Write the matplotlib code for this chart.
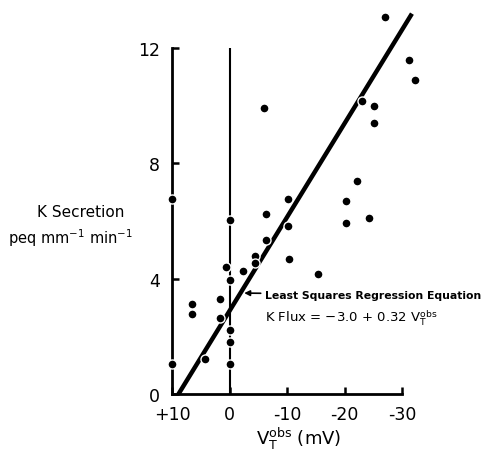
import numpy as np
import matplotlib
matplotlib.use('Agg')
from matplotlib import pyplot as plt

# transepithelial voltage (mV) and K secretion (peq mm^-1 min^-1)
v_obs = [-6.0, 10.0, 0.0, -6.3, -10.1, -10.2, -6.3, -4.3, -4.3, 0.6, -2.3,
         -10.3, -15.3, 0.0, 1.65, 6.6, 6.6, 1.65, 0.0, 0.0, 0.0, 4.4, 10.0,
         -27.0, -31.2, -32.3, -23.0, -25.1, -25.1, -22.1, -20.2, -20.3, -24.2]
k_sec = [9.93, 6.76, 6.03, 6.24, 6.78, 5.84, 5.36, 4.78, 4.55, 4.39, 4.25,
         4.67, 4.17, 3.94, 3.29, 3.11, 2.79, 2.62, 2.22, 1.81, 1.05, 1.22, 1.05,
         13.1, 11.6, 10.9, 10.17, 10.0, 9.4, 7.38, 6.69, 5.93, 6.09]

# regression line as drawn (axis runs +10 -> -30)
fit_intercept = 2.9
fit_slope = -0.325
fit_range = [9.0, -31.7]

xticks = [10, 0, -10, -20, -30]
xticklabels = ['+10', '0', '-10', '-20', '-30']
yticks = [0, 4, 8, 12]

plt.rcParams['font.family'] = 'DejaVu Sans'

fig = plt.figure(figsize=(4.87, 4.56), dpi=100)
ax = fig.add_axes([0.354, 0.134, 0.519, 0.859])

ax.set_xlim(10, -34)
ax.set_ylim(0, 13.6)

# vertical reference line at 0 mV
ax.vlines(0, 0, 12, color='black', lw=1.5, zorder=1)

x = np.array(fit_range)
ax.plot(x, fit_intercept + fit_slope * x, color='black', lw=3.2,
        solid_capstyle='butt', zorder=2)

ax.plot(v_obs, k_sec, 'o', color='black', markersize=6.5,
        markeredgecolor='white', markeredgewidth=1.0, zorder=3, clip_on=False)

for side in ['top', 'right']:
    ax.spines[side].set_visible(False)
ax.spines['left'].set_bounds(0, 12)
ax.spines['bottom'].set_bounds(10, -30)
ax.spines['left'].set_linewidth(2)
ax.spines['bottom'].set_linewidth(2)

ax.set_xticks(xticks)
ax.set_xticklabels(xticklabels)
ax.set_yticks(yticks)
ax.tick_params(direction='in', length=5, width=1.8, labelsize=12.5)
ax.tick_params(axis='x', pad=8)
ax.tick_params(axis='y', pad=9)

ax.set_xlabel(r'V$_\mathrm{T}^\mathrm{obs}$ (mV)', fontsize=13, labelpad=1)

fig.text(0.165, 0.535, 'K Secretion', fontsize=11, ha='center', va='center')
fig.text(0.145, 0.478, r'peq mm$^{-1}$ min$^{-1}$', fontsize=10.5,
         ha='center', va='center')

ax.annotate('Least Squares Regression Equation', xy=(-2.5, 3.5),
            xytext=(-6.1, 3.45), fontsize=7.8, fontweight='bold',
            va='center', ha='left', annotation_clip=False,
            arrowprops=dict(arrowstyle='-|>', color='black', lw=1.2,
                            mutation_scale=8, shrinkA=1, shrinkB=0))
ax.text(-6.1, 2.67, r'K Flux = $-$3.0 + 0.32 V$_\mathrm{T}^\mathrm{obs}$',
        fontsize=9.5, va='center', ha='left')

plt.savefig('out.png', dpi=100)
